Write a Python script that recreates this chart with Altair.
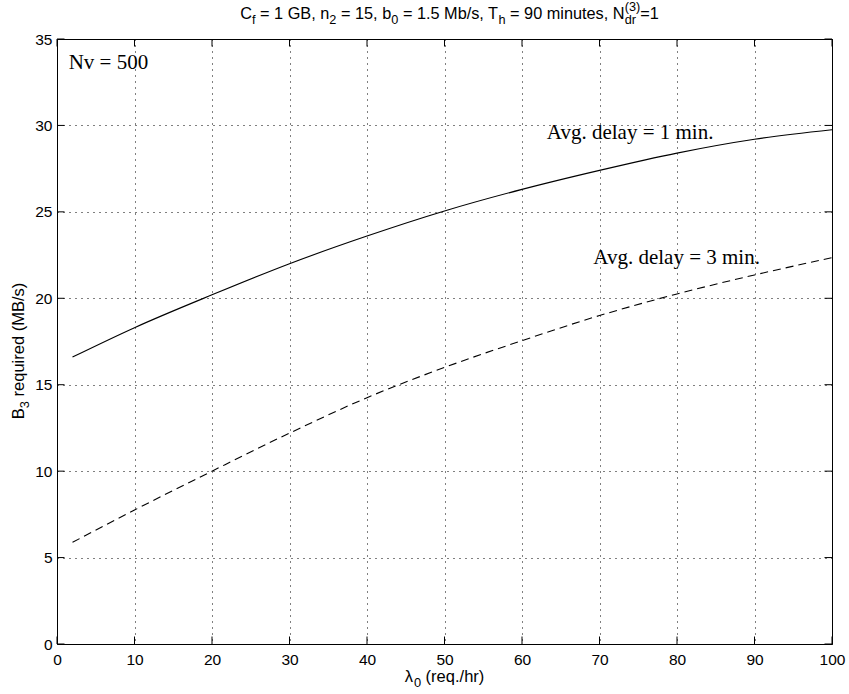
import altair as alt
import pandas as pd

# ---------------- data ----------------
lam = [2, 10, 20, 30, 40, 50, 60, 70, 80, 90, 100]
b3_delay1 = [16.6, 18.3, 20.2, 22.0, 23.6, 25.05, 26.3, 27.4, 28.4, 29.2, 29.75]
b3_delay3 = [5.88, 7.75, 10.0, 12.2, 14.25, 16.0, 17.55, 19.0, 20.25, 21.35, 22.35]
x_ticks = [0, 10, 20, 30, 40, 50, 60, 70, 80, 90, 100]
y_ticks = [0, 5, 10, 15, 20, 25, 30, 35]

annotations = ["Nv = 500", "Avg. delay = 1 min.", "Avg. delay = 3 min."]
ann_x = [1.5, 63.2, 69.2]
ann_y = [33.25, 29.2, 21.98]

# ---------------- layout ----------------
W, H = 775, 605
SANS = "Liberation Sans"
SERIF = "Liberation Serif"
TICK = 7.5

HELV = {" ": .278, "(": .333, ")": .333, ",": .278, ".": .278, "/": .278,
        "=": .584, "B": .667, "C": .722, "G": .778, "M": .833, "N": .722,
        "T": .611, "f": .278, "i": .222, "l": .222, "m": .833, "r": .333,
        "s": .5, "t": .278, "λ": .556}


def tw(s, size):
    return sum(HELV.get(c, .556) for c in s) * size


def rich(segments, center, base, size, vertical=False, k=0.78, dsub=0.33, dsup=0.5):
    """segments: list of (text, kind) kind in n/sub/sup/sup0 (sup0 = no advance)."""
    total = 0.0
    held = 0.0
    for t, kind in segments:
        s = size if kind == "n" else size * k
        w = tw(t, s)
        if kind == "sup0":
            held = w
            continue
        total += max(w, held)
        held = 0.0
    sign = -1 if vertical else 1
    pos = center - sign * total / 2
    out = []
    held = 0.0
    for t, kind in segments:
        s = size if kind == "n" else size * k
        w = tw(t, s)
        off = 0.0
        if kind == "sub":
            off = dsub * size
        elif kind in ("sup", "sup0"):
            off = -dsup * size
        stripped = t.lstrip(" ")
        lead = tw(t[: len(t) - len(stripped)], s)
        p0 = pos + sign * lead
        if vertical:
            out.append(dict(text=stripped, x=base + off, y=p0, size=s, angle=270))
        else:
            out.append(dict(text=stripped, x=p0, y=base + off, size=s, angle=0))
        if kind == "sup0":
            held = w
            continue
        adv = max(w, held)
        held = 0.0
        pos = pos + sign * adv
    return out


title_segs = [("C", "n"), ("f", "sub"), (" = 1 GB, n", "n"), ("2", "sub"),
              (" = 15, b", "n"), ("0", "sub"), (" = 1.5 Mb/s, T", "n"), ("h", "sub"),
              (" = 90 minutes, N", "n"), ("(3)", "sup0"), ("dr", "sub"), ("=1", "n")]
xlab_segs = [("λ", "n"), ("0", "sub"), (" (req./hr)", "n")]
ylab_segs = [("B", "n"), ("3", "sub"), (" required (MB/s)", "n")]

pieces = (rich(title_segs, 449.5 - 57, 19 - 39, 16.3)
          + rich(xlab_segs, 444.5 - 57, 682 - 39, 16.5)
          + rich(ylab_segs, 351 - 39, 24 - 57, 16.5, vertical=True))

text_layers = []
for p in pieces:
    text_layers.append(
        alt.Chart(pd.DataFrame({"a": [0]})).mark_text(
            text=p["text"], font=SANS, fontSize=p["size"], angle=p["angle"],
            align="left", baseline="alphabetic", color="black"
        ).encode(x=alt.value(p["x"]), y=alt.value(p["y"]))
    )

# ---------------- scales / axes ----------------
xs = alt.Scale(domain=[0, 100], nice=False, zero=False)
ys = alt.Scale(domain=[0, 35], nice=False, zero=False)
axx = alt.Axis(values=x_ticks, title=None, ticks=False, domain=False, grid=True,
               gridDash=[1, 5], gridColor="#000", gridWidth=1, labelFont=SANS,
               labelFontSize=15.5, labelColor="black", labelPadding=8, labelFlush=False)
axy = alt.Axis(values=y_ticks, title=None, ticks=False, domain=False, grid=True,
               gridDash=[1, 5], gridColor="#000", gridWidth=1, labelFont=SANS,
               labelFontSize=15.5, labelColor="black", labelPadding=5, labelFlush=False)

df1 = pd.DataFrame({"lam": lam, "b3": b3_delay1})
df3 = pd.DataFrame({"lam": lam, "b3": b3_delay3})

line1 = alt.Chart(df1).mark_line(color="black", strokeWidth=1.1, interpolate="monotone").encode(
    x=alt.X("lam:Q", scale=xs, axis=axx), y=alt.Y("b3:Q", scale=ys, axis=axy))
line3 = alt.Chart(df3).mark_line(color="black", strokeWidth=1.1, strokeDash=[8, 5],
                                 interpolate="monotone").encode(
    x=alt.X("lam:Q", scale=xs, axis=axx), y=alt.Y("b3:Q", scale=ys, axis=axy))

dfx = pd.DataFrame({"lam": x_ticks})
dfy = pd.DataFrame({"b3": y_ticks})
tick_bottom = alt.Chart(dfx).mark_rule(color="black", strokeWidth=1).encode(
    x=alt.X("lam:Q", scale=xs, axis=axx), y=alt.value(H), y2=alt.value(H - TICK))
tick_top = alt.Chart(dfx).mark_rule(color="black", strokeWidth=1).encode(
    x=alt.X("lam:Q", scale=xs, axis=axx), y=alt.value(0), y2=alt.value(TICK))
tick_left = alt.Chart(dfy).mark_rule(color="black", strokeWidth=1).encode(
    y=alt.Y("b3:Q", scale=ys, axis=axy), x=alt.value(0), x2=alt.value(TICK))
tick_right = alt.Chart(dfy).mark_rule(color="black", strokeWidth=1).encode(
    y=alt.Y("b3:Q", scale=ys, axis=axy), x=alt.value(W), x2=alt.value(W - TICK))

dfa = pd.DataFrame({"lam": ann_x, "b3": ann_y, "t": annotations})
ann = alt.Chart(dfa).mark_text(font=SERIF, fontSize=21, align="left", baseline="alphabetic",
                               color="black").encode(
    x=alt.X("lam:Q", scale=xs, axis=axx), y=alt.Y("b3:Q", scale=ys, axis=axy), text="t:N")

chart = alt.layer(line1, line3, tick_bottom, tick_top, tick_left, tick_right, ann,
                  *text_layers).properties(
    width=W, height=H,
    autosize=alt.AutoSizeParams(type="none"),
    padding={"left": 57, "top": 39, "right": 17, "bottom": 50},
    background="white",
).configure_view(stroke="black", strokeWidth=1)

chart.save("out.html", embed_options={"renderer": "svg", "actions": False})
